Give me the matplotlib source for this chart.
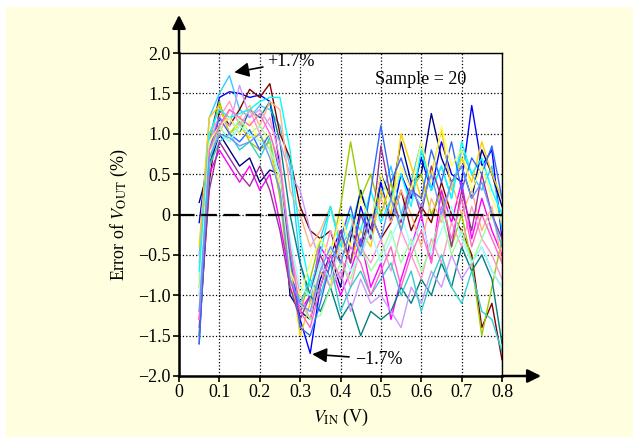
import matplotlib
matplotlib.use("Agg")
import matplotlib.pyplot as plt
from matplotlib.patches import Rectangle

plt.rcParams['font.family'] = ['Liberation Serif', 'DejaVu Serif']
plt.rcParams['mathtext.fontset'] = 'stix'

vin = [0.05, 0.075, 0.1, 0.125, 0.15, 0.175, 0.2, 0.225, 0.25, 0.275, 0.3, 0.325,
       0.35, 0.375, 0.4, 0.425, 0.45, 0.475, 0.5, 0.525, 0.55, 0.575, 0.6, 0.625,
       0.65, 0.675, 0.7, 0.725, 0.75, 0.775, 0.8]

s01 = [-0.1, 0.9, 1.45, 1.52, 1.5, 1.45, 1.48, 1.4, 0.6, -0.5, -1.3, -1.72, -0.9, -0.5, -0.2, -0.6, 0.1, -0.3, 0.4, -0.1, 0.5, 0.2, 0.7, 0.3, 0.9, 0.5, 0.4, 1.35, 0.6, 0.8, -0.3]
s02 = [-0.5, 1.2, 1.5, 1.72, 1.3, 1.2, 1.35, 1.3, 1.1, 0.6, -0.6, -1.1, -0.3, 0.1, -0.4, -0.2, 0.3, -0.1, 0.2, 0.6, 0.0, 0.4, 0.9, 0.3, 0.6, 0.2, 0.8, 0.5, 0.3, 0.6, -0.2]
s03 = [-1.5, 0.4, 1.3, 1.1, 1.3, 1.55, 1.45, 1.62, 1.0, 0.7, 0.1, -0.2, -0.3, -0.2, -0.6, -0.2, -0.4, 0.0, -0.3, -0.1, 0.3, -0.2, 0.1, -0.1, 0.4, 0.0, -0.2, -0.5, -1.4, -1.1, -1.8]
s04 = [0.15, 0.6, 1.0, 0.8, 0.6, 0.7, 0.4, 0.55, 0.5, -1.0, -1.2, -1.3, -0.8, -0.5, -0.9, -0.3, 0.3, -0.2, 0.5, 0.2, 0.9, 0.4, 0.5, 1.25, 0.7, 0.4, 0.6, 0.2, 0.8, 0.5, 0.1]
s05 = [-0.9, 0.9, 1.4, 1.0, 1.15, 0.9, 0.8, 0.9, 0.2, -0.9, -1.2, -0.8, -0.3, -0.5, 0.1, 0.9, 0.2, 0.5, 0.0, 0.4, -0.2, 0.3, 0.5, 0.0, 0.3, -0.4, 0.0, -0.6, -1.5, -0.9, -0.3]
s06 = [-0.4, 1.2, 1.35, 1.0, 1.1, 0.95, 1.0, 0.8, 0.3, -0.6, -1.5, -1.1, -0.7, -0.9, -0.3, -0.6, -0.2, -0.4, 0.3, 0.0, 1.0, 0.6, 0.2, 0.5, 1.05, 0.3, 0.7, 0.4, 0.9, 0.5, 0.2]
s07 = [-1.3, 0.5, 0.8, 0.6, 0.4, 0.6, 0.3, 0.5, -0.1, -0.8, -1.2, -1.0, -0.4, -0.6, -1.0, -0.7, -0.3, -0.9, -0.6, -1.3, -0.8, -0.4, 0.0, -0.6, 0.3, -0.1, 0.4, -0.3, 0.2, -0.2, -0.5]
s08 = [-1.6, 0.6, 1.1, 1.2, 1.0, 1.3, 1.2, 1.4, 0.9, 0.0, -0.6, -1.0, -1.2, -0.9, -1.3, -1.1, -1.5, -1.2, -1.3, -1.2, -0.9, -1.1, -0.8, -1.0, -0.6, -0.9, -0.4, -0.7, -0.5, -0.8, -1.6]
s09 = [-1.2, 0.9, 1.2, 1.1, 1.6, 1.2, 1.3, 1.1, 0.9, 0.5, 0.3, -0.2, -0.6, -0.9, -0.7, -1.2, -0.8, -1.1, -1.0, -1.2, -1.4, -0.9, -1.1, -0.7, -0.9, -0.5, -0.8, -0.6, -0.4, -0.7, -0.9]
s10 = [-1.0, 0.8, 1.0, 1.3, 1.2, 1.35, 1.1, 1.4, 1.3, 0.3, 0.0, -0.4, -0.2, 0.1, -0.3, 0.0, -0.5, -0.2, 0.2, -0.1, 0.3, 0.0, -0.4, 0.2, -0.1, 0.4, 0.0, 0.3, -0.2, 0.1, -0.6]
s11 = [-0.6, 1.0, 1.2, 1.4, 1.1, 1.3, 1.0, 1.2, 0.7, -0.4, -1.0, -1.3, -0.7, -0.2, -0.5, -0.9, -0.4, -0.6, -0.3, -0.7, -0.2, -0.5, -0.8, -0.3, -0.6, -0.1, -0.4, 0.1, -0.3, -0.5, -0.8]
s12 = [-0.8, 0.7, 1.1, 0.9, 1.2, 1.0, 1.1, 0.9, 0.6, -0.5, -1.1, -1.3, -1.25, -0.9, -0.6, -0.8, -0.4, -0.7, -0.5, -0.2, -0.6, -0.3, -0.7, -0.4, 0.0, -0.5, -0.2, -0.6, -0.3, 0.0, -0.4]
s13 = [-1.5, 0.6, 0.9, 1.0, 0.8, 0.9, 0.7, 0.95, 0.4, -0.6, -1.1, -0.8, -1.0, -0.6, -1.2, -0.9, -0.7, -1.0, -0.8, -0.6, -1.0, -0.7, -1.2, -0.8, -0.5, -0.9, -1.1, -0.7, -1.2, -1.3, -1.7]
s14 = [-0.7, 1.0, 1.3, 1.2, 1.25, 1.3, 1.4, 1.45, 1.45, 0.8, -0.3, -0.9, -0.5, 0.1, -0.4, 0.0, -0.2, 0.3, -0.1, 0.2, 0.5, 0.1, 0.8, 0.3, 0.6, 0.2, 0.9, 0.5, 0.7, 0.3, 0.0]
s15 = [-1.4, 0.3, 0.9, 0.7, 0.5, 0.35, 0.6, 0.3, -0.2, -0.9, -1.3, -1.0, -0.5, -0.8, -0.2, -0.6, 0.0, -0.3, 0.85, 0.2, -0.1, 0.4, 0.0, 0.6, 0.2, -0.4, 0.3, -0.2, 0.5, 0.0, -0.3]
s16 = [-1.6, 0.8, 1.2, 1.0, 0.9, 1.05, 0.8, 1.0, 0.5, -0.5, -1.4, -1.5, -1.1, -0.6, -0.3, 0.1, -0.4, 0.3, 1.1, 0.4, 0.7, 0.3, 0.2, 0.8, 0.4, 0.9, 0.3, 0.7, 0.5, 0.85, 0.2]
s17 = [-1.1, 0.9, 1.1, 1.2, 1.0, 1.15, 0.9, 1.0, 0.4, -0.7, -1.0, -0.6, -0.3, -0.5, 0.0, -0.4, 0.2, -0.1, 0.5, 0.1, 0.6, 0.3, 0.9, 0.4, 1.1, 0.6, 0.8, 0.3, 0.6, 0.2, -0.1]
s18 = [-1.0, 0.7, 1.0, 0.9, 1.1, 1.0, 0.9, 0.8, 0.5, -0.3, -0.9, -1.0, -0.6, -0.8, -0.4, -0.7, -0.5, -0.2, -0.6, -0.3, 0.0, -0.4, -0.1, -0.5, -0.2, 0.1, -0.3, -0.6, -0.4, -0.7, -0.9]
s19 = [-1.3, 0.8, 1.1, 1.3, 1.2, 1.1, 1.25, 1.0, 0.6, -0.4, -1.2, -1.4, -0.9, -0.5, -0.8, -0.4, -0.6, -1.0, -0.7, -0.4, -0.9, -0.5, -0.2, -0.6, 0.1, -0.3, 0.2, -0.4, 0.0, -0.3, -0.6]
s20 = [-1.2, 0.7, 1.0, 0.95, 0.85, 0.9, 1.0, 0.7, 0.3, -0.8, -1.1, -1.2, -0.7, -0.4, -0.6, -0.2, -0.5, 0.0, -0.3, 0.2, -0.2, 0.3, 0.1, 0.5, 0.0, 0.4, 0.6, 0.2, 0.4, 0.0, -0.4]

series = [s01, s02, s03, s04, s05, s06, s07, s08, s09, s10,
          s11, s12, s13, s14, s15, s16, s17, s18, s19, s20]
colors = ['#0000FF', '#33CCFF', '#800000', '#000080', '#99CC00', '#FFCC00', '#FF00FF',
          '#008080', '#CC99FF', '#FFB380', '#FF99CC', '#99FF99', '#33CCCC', '#00FFFF',
          '#993399', '#3366FF', '#FFFF66', '#99FFFF', '#FF66CC', '#6699FF']

xticks = [0, 0.1, 0.2, 0.3, 0.4, 0.5, 0.6, 0.7, 0.8]
xticklabels = ['0', '0.1', '0.2', '0.3', '0.4', '0.5', '0.6', '0.7', '0.8']
yticks = [2.0, 1.5, 1.0, 0.5, 0, -0.5, -1.0, -1.5, -2.0]
yticklabels = ['2.0', '1.5', '1.0', '0.5', '0', '\u22120.5', '\u22121.0', '\u22121.5', '\u22122.0']

W, H = 633, 437
fig = plt.figure(figsize=(W / 100, H / 100), dpi=100)
fig.patch.set_facecolor('white')
bg = Rectangle((6 / W, 0), 1 - 6 / W, 1 - 7 / H, transform=fig.transFigure,
               facecolor='#FFFFE0', edgecolor='none', zorder=-10)
fig.add_artist(bg)

ax = fig.add_axes([179 / W, (H - 376) / H, 323 / W, 323 / H])
ax.set_facecolor('white')

for s, c in zip(series, colors):
    ax.plot(vin, s, color=c, lw=1.0, zorder=2)

ax.axhline(0, color='black', lw=1.6, ls=(0, (7, 3)), zorder=3)

ax.set_xlim(0, 0.8)
ax.set_ylim(-2.0, 2.0)
ax.set_xticks(xticks)
ax.set_xticklabels(xticklabels, fontsize=13)
ax.set_yticks(yticks)
ax.set_yticklabels(yticklabels, fontsize=13)
ax.tick_params(direction='out', length=4, width=1.2, color='black', pad=2)
ax.grid(True, color='black', ls=':', lw=0.9, zorder=1)
ax.set_axisbelow(True)
for side in ['top', 'right']:
    ax.spines[side].set_linewidth(1.0)
for side in ['left', 'bottom']:
    ax.spines[side].set_linewidth(1.8)

ax.set_xlabel(r'$V_{\mathrm{IN}}$ (V)', fontsize=13, labelpad=4)
ax.set_ylabel(r'Error of $V_{\mathrm{OUT}}$ (%)', fontsize=13, labelpad=6)

# axis arrows
ax.annotate('', xy=(0, 1.118), xytext=(0, 1.0), xycoords='axes fraction',
            arrowprops=dict(arrowstyle='-|>', color='black', lw=1.8, mutation_scale=20,
                            shrinkA=0, shrinkB=0), annotation_clip=False)
ax.annotate('', xy=(1.121, 0), xytext=(1.0, 0), xycoords='axes fraction',
            arrowprops=dict(arrowstyle='-|>', color='black', lw=1.8, mutation_scale=20,
                            shrinkA=0, shrinkB=0), annotation_clip=False)

ax.annotate('+1.7%', xy=(0.137, 1.76), xytext=(0.218, 1.89), fontsize=13,
            va='center', ha='left',
            arrowprops=dict(arrowstyle='-|>', color='black', lw=1.2, mutation_scale=22,
                            shrinkA=1, shrinkB=0), annotation_clip=False, zorder=5)
ax.annotate('\u22121.7%', xy=(0.33, -1.73), xytext=(0.435, -1.79), fontsize=13,
            va='center', ha='left',
            arrowprops=dict(arrowstyle='-|>', color='black', lw=1.2, mutation_scale=22,
                            shrinkA=2, shrinkB=0), annotation_clip=False, zorder=5)
ax.text(0.485, 1.67, 'Sample = 20', fontsize=13, va='center', ha='left', zorder=5)

fig.savefig('out.png', dpi=100, facecolor=fig.get_facecolor())
